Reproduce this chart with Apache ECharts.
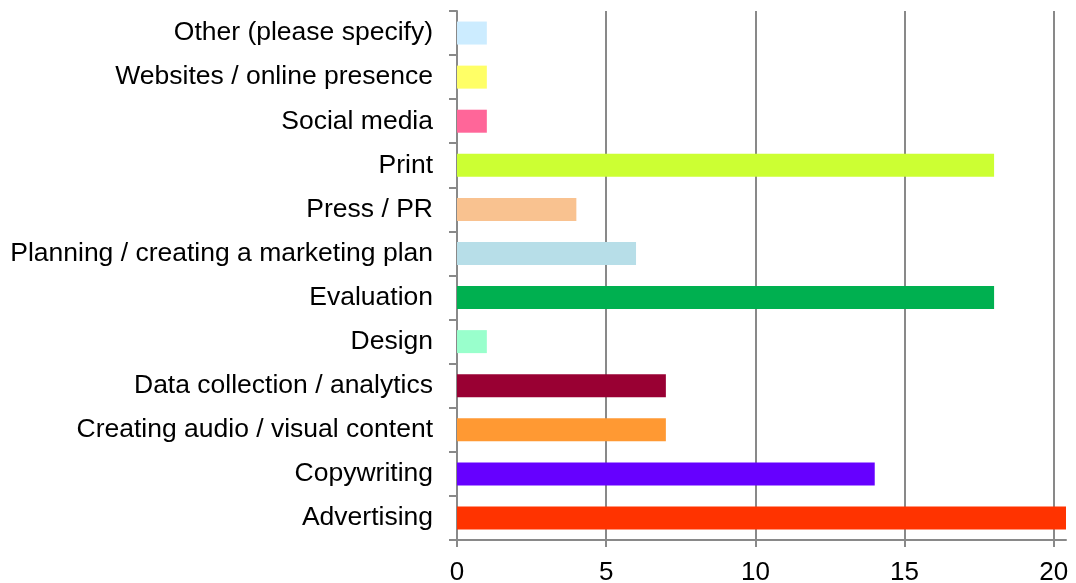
<!DOCTYPE html>
<html>
<head>
<meta charset="utf-8">
<script src="https://cdn.jsdelivr.net/npm/echarts@6/dist/echarts.min.js"></script>
<style>
  html, body { margin: 0; padding: 0; background: #ffffff; }
  #chart { width: 1076px; height: 583px; }
</style>
</head>
<body>
<div id="chart"></div>
<script>
// Services, listed top to bottom
const categories = [
  'Other (please specify)',
  'Websites / online presence',
  'Social media',
  'Print',
  'Press / PR',
  'Planning / creating a marketing plan',
  'Evaluation',
  'Design',
  'Data collection / analytics',
  'Creating audio / visual content',
  'Copywriting',
  'Advertising'
];
const counts = [1, 1, 1, 18, 4, 6, 18, 1, 7, 7, 14, 21];
const barColors = [
  '#CCECFF', '#FFFF66', '#FF6699', '#CCFF33', '#F9C290', '#B7DEE8',
  '#00B050', '#99FFCC', '#990033', '#FF9933', '#6600FF', '#FF3300'
];
const xTickValues = [0, 5, 10, 15, 20];

const font = '"Liberation Sans", Arial, sans-serif';
const axisGray = '#898989';

const chart = echarts.init(document.getElementById('chart'), null, { renderer: 'canvas' });
chart.setOption({
  animation: false,
  backgroundColor: '#ffffff',
  grid: { left: 457, right: 10, top: 11, bottom: 43, containLabel: false, outerBoundsMode: 'none' },
  xAxis: {
    type: 'value',
    min: 0,
    max: 20.41,
    interval: 5,
    axisLine: { show: true, lineStyle: { color: axisGray, width: 2 } },
    axisTick: { show: true, length: 7, customValues: xTickValues, lineStyle: { color: axisGray, width: 2 } },
    axisLabel: {
      customValues: xTickValues,
      margin: 20,
      color: '#000000',
      fontFamily: font,
      fontSize: 26
    },
    splitLine: { show: true, showMinLine: false, lineStyle: { color: axisGray, width: 2 } }
  },
  yAxis: {
    type: 'category',
    inverse: true,
    data: categories,
    axisLine: { show: true, lineStyle: { color: axisGray, width: 2 } },
    axisTick: { show: true, length: 8, lineStyle: { color: axisGray, width: 2 } },
    axisLabel: {
      margin: 24,
      color: '#000000',
      fontFamily: font,
      fontSize: 26.5
    },
    splitLine: { show: false }
  },
  series: [{
    type: 'bar',
    barWidth: 23,
    clip: true,
    data: counts.map((v, i) => ({ value: v, itemStyle: { color: barColors[i] } }))
  }]
});
</script>
</body>
</html>
